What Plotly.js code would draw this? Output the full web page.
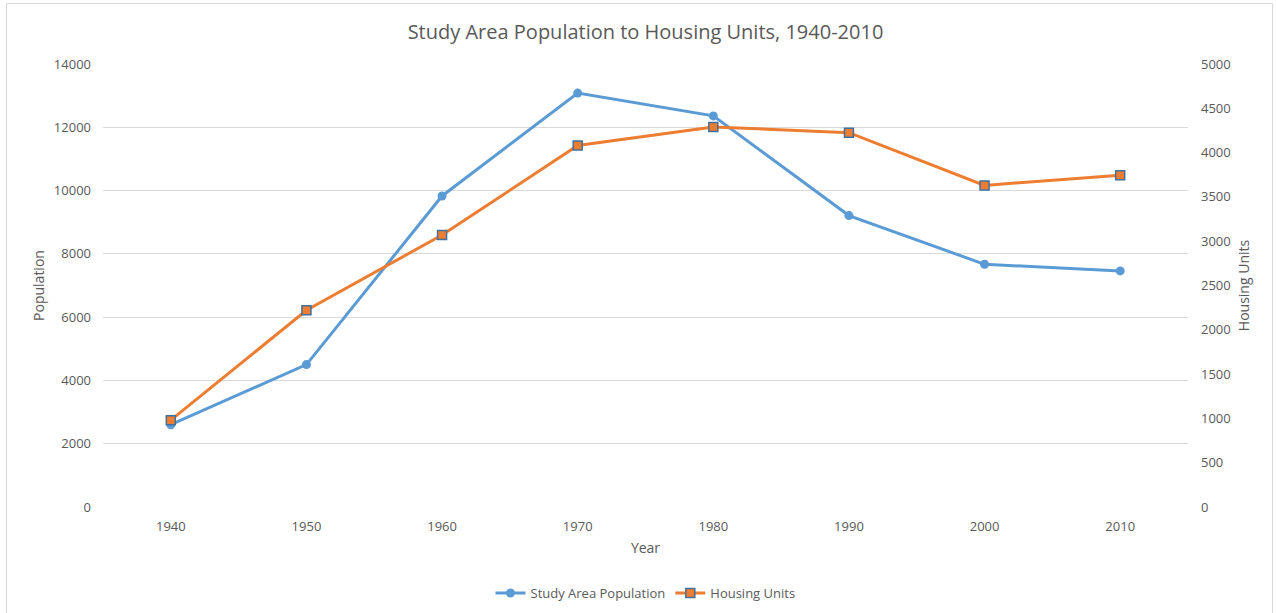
<!DOCTYPE html>
<html>
<head>
<meta charset="utf-8">
<script src="https://cdn.plot.ly/plotly-3.0.1.min.js"></script>
<style>
  html, body { margin: 0; padding: 0; background: #ffffff; overflow: hidden; }
  #frame { position: absolute; left: 6px; top: 3px; width: 1267px; height: 640px; border: 1px solid #d9d9d9; box-sizing: border-box; pointer-events: none; z-index: 5; }
  #chart { position: absolute; left: 0; top: 0; width: 1276px; height: 613px; }
</style>
</head>
<body>
<div id="chart"></div>
<div id="frame"></div>
<script>
const years = ['1940', '1950', '1960', '1970', '1980', '1990', '2000', '2010'];
const population = [2600, 4500, 9830, 13080, 12360, 9210, 7670, 7460];
const housingUnits = [980, 2220, 3070, 4080, 4290, 4225, 3630, 3745];

const popTicks = [0, 2000, 4000, 6000, 8000, 10000, 12000, 14000];
const housingTicks = [0, 500, 1000, 1500, 2000, 2500, 3000, 3500, 4000, 4500, 5000];

const textColor = '#595959';
const fontFam = '"Open Sans", "Liberation Sans", sans-serif';

const traces = [
  {
    x: years, y: population, name: 'Study Area Population',
    type: 'scatter', mode: 'lines+markers', yaxis: 'y',
    line: { color: '#5B9BD5', width: 3 },
    marker: { symbol: 'circle', size: 9, color: '#5B9BD5', line: { width: 0 } },
    hoverinfo: 'skip'
  },
  {
    x: years, y: housingUnits, name: 'Housing Units',
    type: 'scatter', mode: 'lines+markers', yaxis: 'y2',
    line: { color: '#ED7D31', width: 3 },
    marker: { symbol: 'square', size: 9, color: '#ED7D31', line: { width: 1.5, color: '#41719C' } },
    hoverinfo: 'skip'
  }
];

const layout = {
  width: 1276, height: 613,
  margin: { l: 103, r: 88, t: 64, b: 106, pad: 0, autoexpand: false },
  paper_bgcolor: '#ffffff', plot_bgcolor: '#ffffff',
  font: { family: fontFam, color: textColor, size: 13 },
  title: {
    text: 'Study Area Population to Housing Units, 1940-2010',
    font: { family: fontFam, size: 20, color: textColor },
    x: 0.5, xref: 'paper', xanchor: 'center',
    y: 31, yref: 'container', yanchor: 'middle'
  },
  showlegend: true,
  legend: {
    orientation: 'h', x: 0.5, xanchor: 'center', xref: 'paper',
    y: 0.0326, yanchor: 'middle', yref: 'container',
    font: { family: fontFam, size: 13, color: textColor },
    itemwidth: 30, tracegroupgap: 0
  },
  xaxis: {
    type: 'category', range: [-0.5, 7.5], automargin: false,
    showgrid: false, zeroline: false,
    showline: false, ticks: '',
    tickfont: { family: fontFam, size: 13, color: textColor },
    ticklabelstandoff: 10,
    title: { text: 'Year', font: { family: fontFam, size: 14, color: textColor }, standoff: 9 },
    fixedrange: true
  },
  yaxis: {
    range: [0, 14000], tickvals: popTicks, ticktext: popTicks.map(String), automargin: false,
    showgrid: true, gridcolor: '#D9D9D9', gridwidth: 1,
    zeroline: false, showline: false, ticks: '',
    tickfont: { family: fontFam, size: 13, color: textColor },
    ticklabelstandoff: 11,
    title: { text: 'Population', font: { family: fontFam, size: 14, color: textColor }, standoff: 5 },
    fixedrange: true
  },
  yaxis2: {
    overlaying: 'y', side: 'right', automargin: false,
    range: [0, 5000], tickvals: housingTicks, ticktext: housingTicks.map(String),
    showgrid: false, zeroline: false, showline: false, ticks: '',
    tickfont: { family: fontFam, size: 13, color: textColor },
    ticklabelstandoff: 12,
    title: { text: 'Housing Units', font: { family: fontFam, size: 14, color: textColor }, standoff: 9 },
    fixedrange: true
  }
};

Plotly.newPlot('chart', traces, layout, { displayModeBar: false, staticPlot: true });
</script>
</body>
</html>
